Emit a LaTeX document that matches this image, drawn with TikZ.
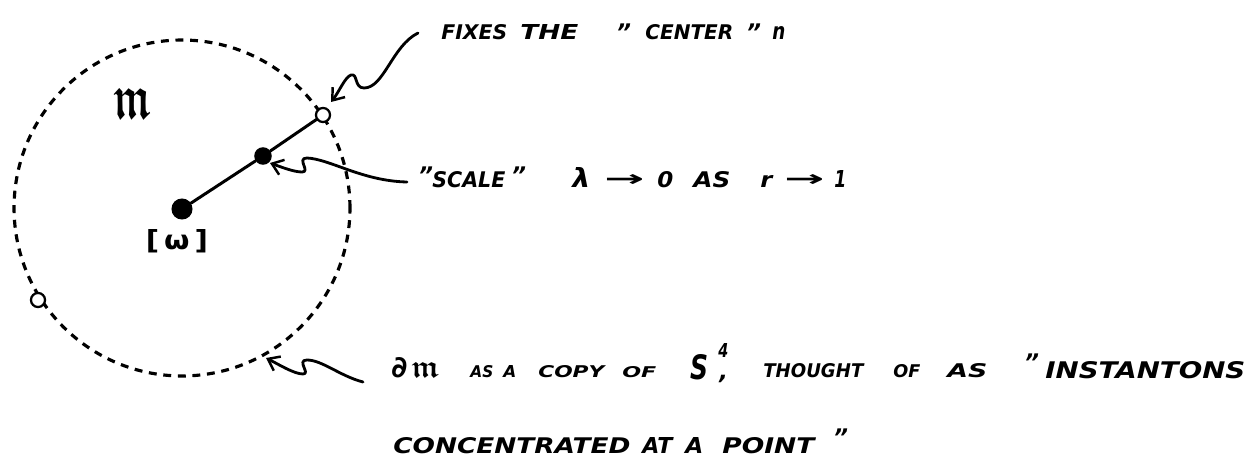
\documentclass[tikz,border=0pt]{standalone}
\usepackage{amsmath,amssymb,bm,graphicx}
\usepackage{fontspec}
\setmainfont{DejaVu Sans}
\usetikzlibrary{arrows.meta}
\newlength\pxu
\setlength\pxu{0.02cm}
\newcommand\fitw[3]{\resizebox{#1\pxu}{#2\pxu}{#3}}
\tikzset{
  hand/.style={line width=1.7pt, line cap=round, line join=round},
  squig/.style={line width=1.6pt, line cap=round, line join=round, -{Straight Barb[length=6pt,width=9pt,line width=1.4pt]}},
  rim/.style={line width=1.8pt, dash pattern=on 4.5pt off 3.8pt},
  wd/.style={anchor=base west, inner sep=0pt, font=\bfseries\itshape},
  qt/.style={anchor=north west, inner sep=0pt, font=\fontsize{13}{13}\selectfont\bfseries\itshape},
  opendot/.style={circle, draw, line width=1.3pt, fill=white, minimum size=8pt, inner sep=0pt},
  fulldot/.style={circle, fill, inner sep=0pt}
}
\begin{document}
\begin{tikzpicture}[x=0.02cm,y=-0.02cm]
\useasboundingbox (0,0) rectangle (1257,476);
% moduli space boundary
\coordinate (c) at (182,208);
\draw[rim] (c) circle [radius=3.36cm];
% points
\node[fulldot, minimum size=12pt] (w) at (182,209) {};
\node[fulldot, minimum size=10pt] (mid) at (263,156) {};
\node[opendot] (top) at (323,115) {};
\node[opendot] (low) at (38,300) {};
\draw[hand] (w) -- (mid) -- (top);
% labels
\node[inner sep=0pt] (m) at (132,103) {\fitw{38}{30}{$\bm{\mathfrak{m}}$}};
\node[inner sep=0pt] (wl) at (177,241) {\fitw{62}{20}{\bfseries[\,ω\,]}};
% line 1
\node[wd] (a1) at (441,40) {\fitw{66}{15}{FIXES}};
\node[wd] (a2) at (520,40) {\fitw{58}{15}{THE}};
\node[qt] (a3) at (616,24) {"};
\node[wd] (a4) at (645,40) {\fitw{88}{15}{CENTER}};
\node[qt] (a5) at (746,24) {"};
\node[wd] (a6) at (772,40) {\fitw{13}{13}{n}};
% line 2
\node[qt] (b1) at (418,166) {"};
\node[wd] (b2) at (432,188) {\fitw{73}{16}{SCALE}};
\node[qt] (b3) at (511,166) {"};
\node[wd] (b4) at (572,188) {\fitw{18}{20}{λ}};
\node[anchor=west, inner sep=0pt] (b5) at (604,181) {\fitw{40}{12}{\bfseries →}};
\node[wd] (b6) at (657,188) {\fitw{16}{16}{0}};
\node[wd] (b7) at (693,188) {\fitw{37}{16}{AS}};
\node[wd] (b8) at (760,188) {\fitw{12}{12}{r}};
\node[anchor=west, inner sep=0pt] (b9) at (784,181) {\fitw{40}{12}{\bfseries →}};
\node[wd] (b10) at (834,188) {\fitw{12}{17}{1}};
% line 3
\node[wd] (c1) at (391,377) {\fitw{16}{20}{∂}};
\node[wd] (c2) at (411,377) {\fitw{28}{15}{$\bm{\mathfrak{m}}$}};
\node[wd] (c3) at (470,377) {\fitw{23}{12}{AS}};
\node[wd] (c4) at (503,377) {\fitw{13}{12}{A}};
\node[wd] (c5) at (538,377) {\fitw{66}{12}{COPY}};
\node[wd] (c6) at (622,377) {\fitw{34}{11}{OF}};
\node[wd] (c7) at (690,379) {\fitw{18}{25}{S}};
\node[wd] (c8) at (718,357) {\fitw{10}{14}{4}};
\node[wd, font=\fontsize{13}{13}\selectfont\bfseries\itshape] (c9) at (719,379) {,};
\node[wd] (c10) at (763,377) {\fitw{100}{14}{THOUGHT}};
\node[wd] (c11) at (893,377) {\fitw{27}{13}{OF}};
\node[wd] (c12) at (947,377) {\fitw{40}{14}{AS}};
\node[qt] (c13) at (1024,353) {"};
\node[wd] (c14) at (1045,378) {\fitw{200}{17}{INSTANTONS}};
% line 4
\node[wd] (d1) at (393,453) {\fitw{237}{16}{CONCENTRATED}};
\node[wd] (d2) at (642,453) {\fitw{30}{16}{AT}};
\node[wd] (d3) at (685,453) {\fitw{18}{16}{A}};
\node[wd] (d4) at (722,453) {\fitw{92}{16}{POINT}};
\node[qt] (d5) at (833,428) {"};
% squiggly pointers
\coordinate (s1) at (418,33);
\coordinate (s2) at (407,182);
\coordinate (s3) at (363,382);
\draw[squig] (s1) .. controls (392,46) and (384,88) .. (364,88)
  .. controls (354,88) and (358,73) .. (351,75)
  .. controls (345,77) and (339,92) .. (331,102);
\draw[squig] (s2) .. controls (362,181) and (330,159) .. (307,158)
  .. controls (296,158) and (311,172) .. (302,172)
  .. controls (294,172) and (281,167) .. (270,163);
\draw[squig] (s3) .. controls (340,376) and (322,360) .. (307,360)
  .. controls (296,360) and (311,374) .. (303,374)
  .. controls (294,374) and (278,364) .. (266,358);
\end{tikzpicture}
\end{document}
